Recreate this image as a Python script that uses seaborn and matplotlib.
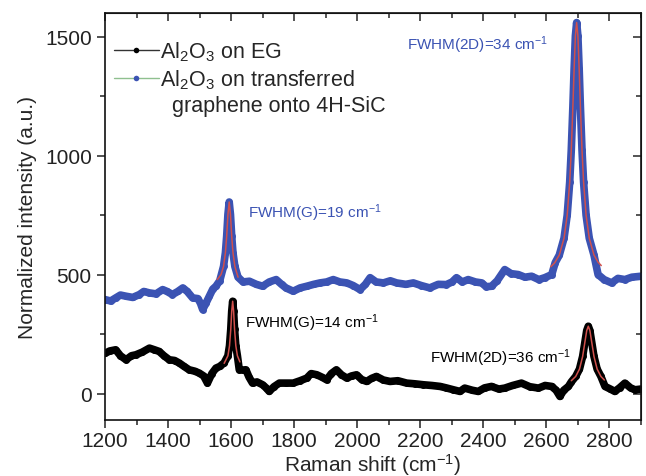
import numpy as np
import pandas as pd
import matplotlib
matplotlib.use("Agg")
import matplotlib.pyplot as plt
from matplotlib.lines import Line2D
from matplotlib.ticker import MultipleLocator
import seaborn as sns

# ---------------- data ----------------
eg_shift = [1200, 1215, 1234, 1249, 1267, 1284, 1298, 1318, 1341, 1357, 1372, 1387,
            1404, 1421, 1436, 1451, 1467, 1485, 1499, 1513, 1525, 1539, 1552, 1564,
            1578, 1590, 1595, 1599, 1602, 1605, 1608, 1611, 1615, 1620, 1626,
            1638, 1647, 1657, 1668, 1682, 1700, 1711, 1721, 1736, 1753, 1774, 1797,
            1819, 1840, 1854, 1872, 1888, 1903, 1918, 1934, 1950, 1967, 1982, 1998,
            2014, 2030, 2046, 2061, 2083, 2104, 2129, 2157, 2183, 2210, 2237, 2263,
            2282, 2305, 2326, 2341, 2365, 2384, 2404, 2426, 2449, 2468, 2493, 2521,
            2547, 2575, 2596, 2617, 2631, 2643, 2655, 2670,
            2679, 2693, 2705, 2715, 2723, 2728, 2733, 2738, 2743, 2751, 2761, 2773,
            2786, 2803, 2817, 2832, 2849, 2867, 2881, 2900]
eg_int = [170, 180, 185, 160, 143, 160, 164, 175, 192, 185, 178, 160,
          143, 140, 129, 115, 101, 95, 87, 75, 45, 85, 108, 115,
          130, 160, 202, 271, 347, 389, 347, 271, 202, 160, 101,
          100, 101, 70, 45, 50, 38, 25, 10, 30, 45, 45, 45,
          55, 66, 85, 80, 70, 59, 85, 101, 80, 66, 75, 80,
          60, 52, 65, 73, 58, 52, 55, 45, 42, 38, 35, 31,
          25, 17, 10, 24, 15, 10, 25, 31, 20, 24, 35, 45,
          30, 24, 35, 31, 15, -11, 15, 31,
          50, 73, 104, 157, 224, 266, 284, 266, 224, 157, 104, 73,
          31, 20, 10, 25, 45, 25, 17, 20]

tr_shift = [1200, 1218, 1234, 1249, 1267, 1288, 1309, 1323, 1341, 1362, 1383, 1397,
            1414, 1431, 1447, 1461, 1478, 1495, 1503, 1510, 1520, 1531, 1542, 1552,
            1564, 1576, 1582, 1586, 1590, 1594, 1598, 1602, 1606, 1612, 1622,
            1638, 1658, 1680, 1700, 1721, 1743, 1760, 1774, 1797, 1819, 1840, 1862,
            1882, 1903, 1924, 1945, 1967, 1987, 2009, 2026, 2041, 2060, 2083, 2105,
            2125, 2154, 2178, 2203, 2230, 2257, 2283, 2301, 2315, 2333, 2352, 2375,
            2395, 2409, 2426, 2444, 2468, 2488, 2511, 2532, 2553, 2576, 2595, 2617,
            2628, 2641, 2656, 2666, 2674, 2679, 2684, 2688, 2692, 2696, 2700, 2704,
            2708, 2713, 2718, 2726, 2736, 2751, 2764,
            2783, 2807, 2827, 2849, 2871, 2900]
tr_int = [396, 390, 403, 415, 410, 405, 417, 430, 424, 420, 438, 430,
          417, 430, 445, 430, 403, 400, 380, 354, 380, 410, 440, 452,
          475, 535, 593, 662, 754, 806, 754, 662, 593, 535, 490,
          470, 473, 460, 452, 470, 480, 460, 445, 431, 445, 452, 460,
          466, 470, 480, 470, 466, 455, 438, 460, 488, 470, 466, 475,
          466, 460, 466, 455, 445, 460, 459, 470, 488, 470, 480, 470,
          466, 450, 452, 475, 522, 505, 501, 490, 494, 480, 488, 501,
          551, 583, 654, 750, 890, 1025, 1204, 1366, 1504, 1560, 1504, 1366,
          1204, 1025, 890, 750, 654, 583, 501,
          480, 466, 485, 480, 490, 494]

# Lorentzian fit curves (red)
fit_tr_g_x = [1556, 1568, 1576, 1582, 1586, 1590, 1594, 1598, 1602, 1606, 1612, 1622]
fit_tr_g_y = [480, 501, 535, 593, 662, 754, 806, 754, 662, 593, 535, 490]
fit_tr_2d_x = [2614, 2626, 2641, 2656, 2666, 2674, 2679, 2684, 2688, 2692, 2696,
               2700, 2704, 2708, 2713, 2718, 2726, 2736, 2751, 2764, 2774]
fit_tr_2d_y = [534, 550, 583, 654, 750, 890, 1025, 1204, 1366, 1504, 1560,
               1504, 1366, 1204, 1025, 890, 750, 654, 583, 553, 539]
fit_eg_g_x = [1578, 1590, 1595, 1599, 1602, 1605, 1608, 1611, 1615, 1620, 1628]
fit_eg_g_y = [128, 160, 202, 271, 347, 389, 347, 271, 202, 160, 134]
fit_eg_2d_x = [2679, 2693, 2705, 2715, 2723, 2728, 2733, 2738, 2743, 2751, 2761, 2773, 2784]
fit_eg_2d_y = [55, 73, 104, 157, 224, 266, 284, 266, 224, 157, 104, 73, 58]

legend_labels = ["Al$_2$O$_3$ on EG",
                 "Al$_2$O$_3$ on transferred",
                 "  graphene onto 4H-SiC"]
annotations = [("FWHM(2D)=34 cm$^{-1}$", 2158, 1471, "blue"),
               ("FWHM(G)=19 cm$^{-1}$", 1654, 763, "blue"),
               ("FWHM(G)=14 cm$^{-1}$", 1644, 299, "black"),
               ("FWHM(2D)=36 cm$^{-1}$", 2231, 152, "black")]

# ---------------- style ----------------
sns.set_style("ticks")
plt.rcParams["font.family"] = ["Liberation Sans", "DejaVu Sans"]
plt.rcParams["mathtext.fontset"] = "custom"
plt.rcParams["mathtext.rm"] = "Liberation Sans"
plt.rcParams["mathtext.it"] = "Liberation Sans:italic"
plt.rcParams["mathtext.bf"] = "Liberation Sans:bold"

BLUE = "#3b53b3"
BLACK = "#000000"
RED = "#d0504c"
GREEN = "#8fc08f"

fig = plt.figure(figsize=(6.46, 4.77), dpi=100)
ax = fig.add_axes([0.1625, 0.1174, 0.8297, 0.8532])

eg = pd.DataFrame({"shift": eg_shift, "intensity": eg_int})
tr = pd.DataFrame({"shift": tr_shift, "intensity": tr_int})

sns.lineplot(data=eg, x="shift", y="intensity", ax=ax, color=BLACK, lw=5.5,
             estimator=None, sort=False, marker="o", markersize=5, markeredgewidth=0,
             solid_joinstyle="round", solid_capstyle="round")
sns.lineplot(data=tr, x="shift", y="intensity", ax=ax, color=BLUE, lw=5.5,
             estimator=None, sort=False, marker="o", markersize=5, markeredgewidth=0,
             solid_joinstyle="round", solid_capstyle="round")

for fx, fy in [(fit_tr_g_x, fit_tr_g_y), (fit_tr_2d_x, fit_tr_2d_y),
               (fit_eg_g_x, fit_eg_g_y), (fit_eg_2d_x, fit_eg_2d_y)]:
    sns.lineplot(x=fx, y=fy, ax=ax, color=RED, lw=1.1, estimator=None, sort=False)

ax.set_xlim(1200, 2900)
ax.set_ylim(-110, 1600)
ax.xaxis.set_major_locator(MultipleLocator(200))
ax.xaxis.set_minor_locator(MultipleLocator(100))
ax.yaxis.set_major_locator(MultipleLocator(500))
ax.yaxis.set_minor_locator(MultipleLocator(250))
ax.tick_params(which="both", direction="out", top=False, right=False,
               labelsize=15, colors="#222222", width=1.1)
ax.tick_params(which="major", length=6)
ax.tick_params(which="minor", length=3.5)
ax.tick_params(axis="x", which="both", pad=2)
for sp in ax.spines.values():
    sp.set_linewidth(1.2)
    sp.set_color("#111111")

secx = ax.secondary_xaxis("top")
secx.xaxis.set_major_locator(MultipleLocator(200))
secx.xaxis.set_minor_locator(MultipleLocator(100))
secx.tick_params(which="both", direction="in", labeltop=False, width=1.1)
secx.tick_params(which="major", length=6)
secx.tick_params(which="minor", length=3.5)
secy = ax.secondary_yaxis("right")
secy.yaxis.set_major_locator(MultipleLocator(500))
secy.yaxis.set_minor_locator(MultipleLocator(250))
secy.tick_params(which="both", direction="in", labelright=False, width=1.1)
secy.tick_params(which="major", length=6)
secy.tick_params(which="minor", length=3.5)

ax.set_xlabel("Raman shift (cm$^{-1}$)", fontsize=15, labelpad=0.5)
ax.set_ylabel("Normalized intensity (a.u.)", fontsize=15, labelpad=6)

for txt, x, y, c in annotations:
    ax.text(x, y, txt, color=BLUE if c == "blue" else BLACK, fontsize=11,
            ha="left", va="center")

handles = [Line2D([], [], color="#333333", lw=1, marker="o", markersize=4,
                  markerfacecolor=BLACK, markeredgewidth=0),
           Line2D([], [], color=GREEN, lw=1, marker="o", markersize=4,
                  markerfacecolor=BLUE, markeredgewidth=0),
           Line2D([], [], color="none", lw=0)]
leg = ax.legend(handles, legend_labels, loc="upper left", frameon=False, fontsize=15.5,
                handlelength=2.1, handletextpad=0.05, labelspacing=0.2,
                borderaxespad=0.2, borderpad=0.2, bbox_to_anchor=(0.0, 0.957))

fig.savefig("out.png", dpi=100)
